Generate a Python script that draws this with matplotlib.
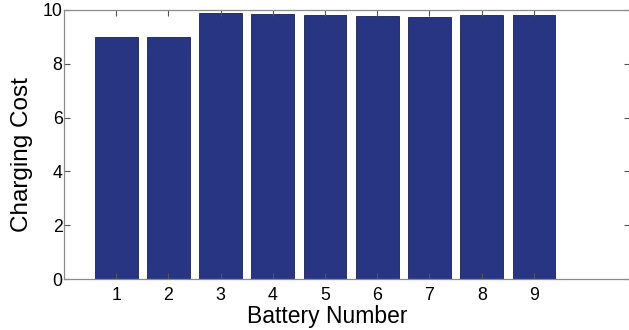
import matplotlib
matplotlib.use("Agg")
import matplotlib.pyplot as plt

batteries = [1, 2, 3, 4, 5, 6, 7, 8, 9]
cost = [9.0, 9.0, 9.90, 9.86, 9.81, 9.78, 9.73, 9.83, 9.83]
yticks = [0, 2, 4, 6, 8, 10]

plt.rcParams['font.family'] = ['Liberation Sans', 'DejaVu Sans']

fig = plt.figure(figsize=(6.29, 3.30), dpi=100)
ax = fig.add_axes([64/629, 1-279/330, (630-64)/629, (279-10)/330])
ax.bar(batteries, cost, width=0.82, color='#283583', edgecolor='#1a2050', linewidth=0.6)
ax.set_xlim(0.0, 10.84)
ax.set_ylim(0, 10)
ax.set_xticks(batteries)
ax.set_yticks(yticks)
ax.tick_params(direction='in', length=4, width=0.8, color='#555555', labelsize=12.8,
               top=True, right=True)
ax.tick_params(axis='x', pad=6)
ax.tick_params(axis='y', pad=1.0)
for s in ax.spines.values():
    s.set_color('#8c8c8c')
    s.set_linewidth(0.9)
ax.set_xlabel('Battery Number', fontsize=16.5)
ax.set_ylabel('Charging Cost', fontsize=17.5)
ax.xaxis.set_label_coords((327-64)/566, -(323-279)/269)
ax.xaxis.label.set_va('baseline')
ax.yaxis.set_label_coords(-(64-33)/566, (279-155)/269)
fig.savefig('out.png', dpi=100)
